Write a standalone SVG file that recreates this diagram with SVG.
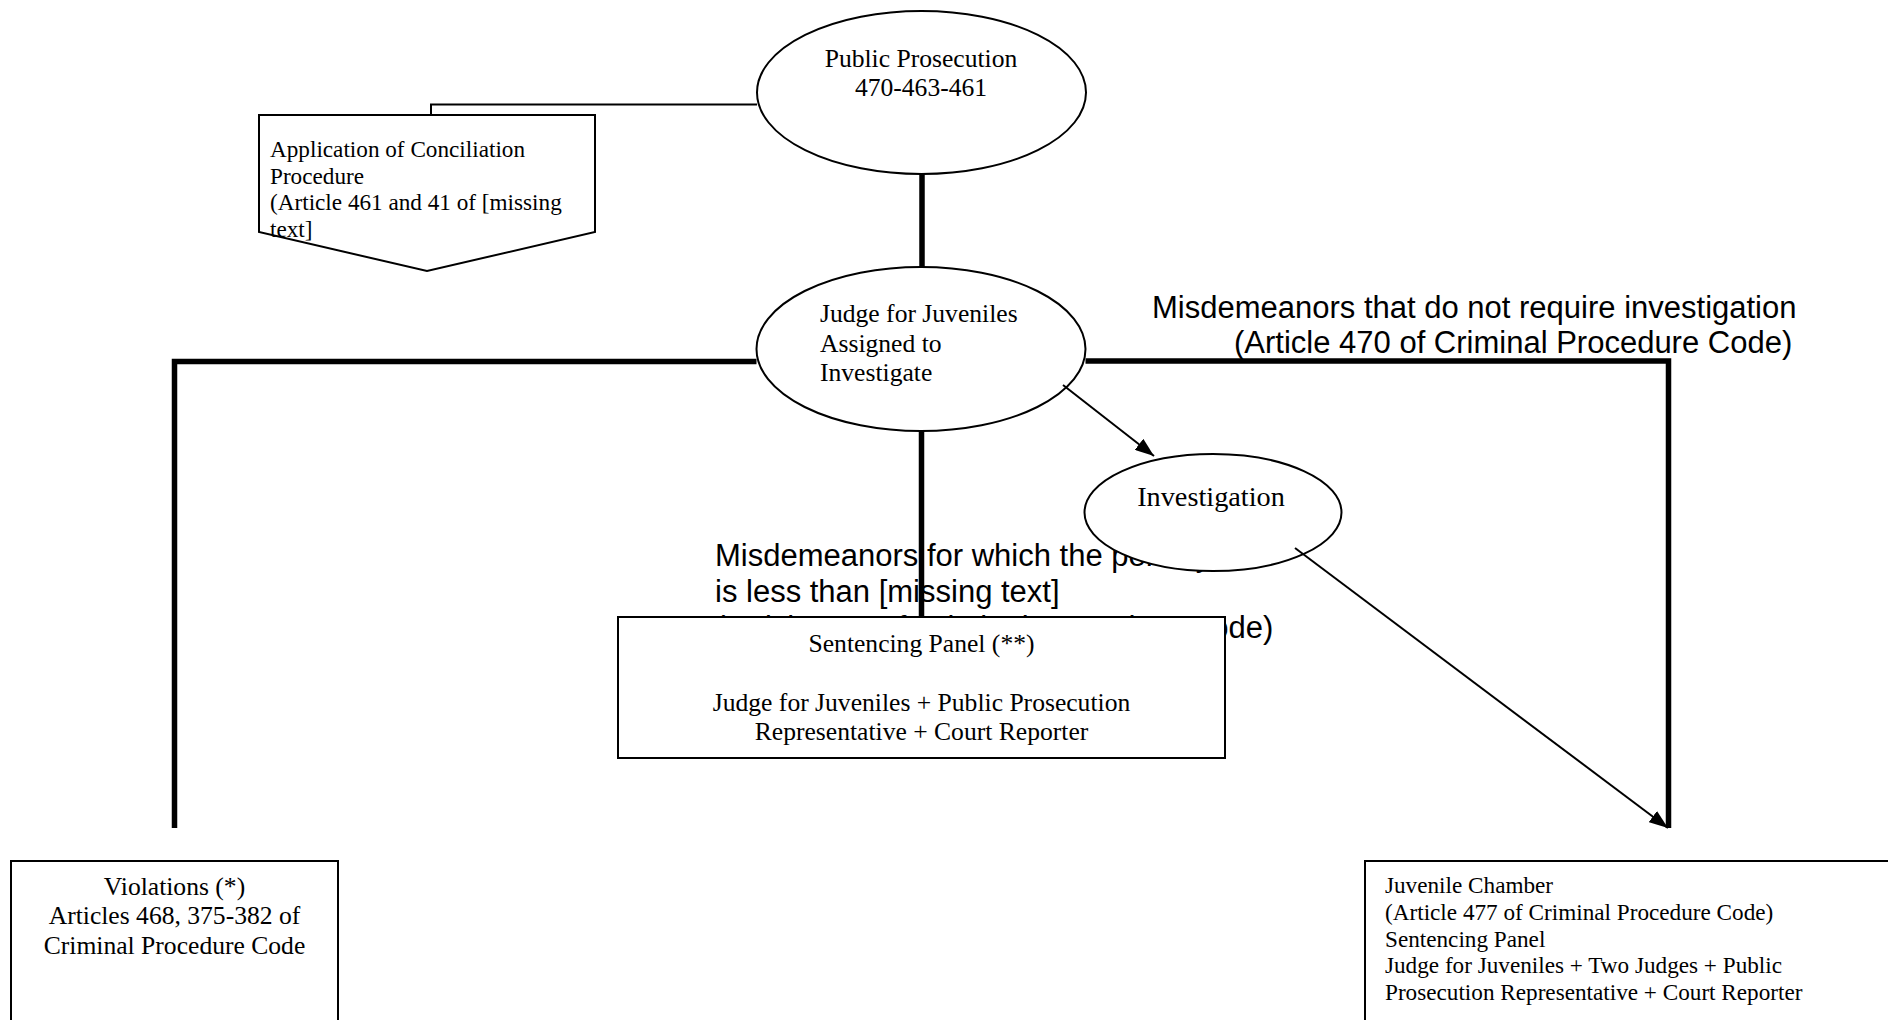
<svg xmlns="http://www.w3.org/2000/svg" width="1888" height="1020" viewBox="0 0 1888 1020">
  <defs>
    <marker id="arrowhead" markerUnits="userSpaceOnUse" markerWidth="20" markerHeight="14" refX="19" refY="7" orient="auto">
      <path d="M0,0 L19,7 L0,14 Z" fill="#000"/>
    </marker>
    <style>
      .serif { font-family: "Liberation Serif", "Times New Roman", serif; font-size: 25.6px; fill: #000; }
      .serif-sm { font-family: "Liberation Serif", "Times New Roman", serif; font-size: 23.2px; fill: #000; }
      .sans { font-family: "Liberation Sans", Arial, sans-serif; font-size: 31px; fill: #000; }
      .mid { text-anchor: middle; }
      .shape { fill: #fff; stroke: #000; stroke-width: 2; }
      .thick { fill: none; stroke: #000; stroke-width: 5.5; stroke-linejoin: miter; }
      .thin { fill: none; stroke: #000; stroke-width: 2; }
    </style>
  </defs>

  <rect width="1888" height="1020" fill="#fff"/>

  <!-- branch labels -->
  <g id="labels">
    <text class="sans" x="1152" y="318">Misdemeanors that do not require investigation</text>
    <text class="sans" x="1234" y="353">(Article 470 of Criminal Procedure Code)</text>
    <text class="sans" x="715" y="566">Misdemeanors for which the penalty</text>
    <text class="sans" x="715" y="602">is less than [missing text]</text>
    <text class="sans" x="715" y="638">(Article 470 of Criminal Procedure Code)</text>
  </g>

  <!-- nodes -->
  <g id="public-prosecution">
    <ellipse class="shape" cx="921.5" cy="92.5" rx="164.5" ry="81.5"/>
    <text class="serif mid" x="921" y="67">Public Prosecution</text>
    <text class="serif mid" x="921" y="96">470-463-461</text>
  </g>

  <g id="conciliation">
    <polygon class="shape" points="259,115 595,115 595,232 427,271 259,232"/>
    <text class="serif-sm" x="270" y="157">Application of Conciliation</text>
    <text class="serif-sm" x="270" y="183.5">Procedure</text>
    <text class="serif-sm" x="270" y="210">(Article 461 and 41 of [missing</text>
    <text class="serif-sm" x="270" y="236.5">text]</text>
  </g>

  <g id="judge-investigate">
    <ellipse class="shape" cx="921" cy="349" rx="164.5" ry="82"/>
    <text class="serif" x="820" y="322">Judge for Juveniles</text>
    <text class="serif" x="820" y="351.5">Assigned to</text>
    <text class="serif" x="820" y="381">Investigate</text>
  </g>

  <g id="investigation">
    <ellipse class="shape" cx="1213" cy="512.5" rx="128.5" ry="58.5"/>
    <text class="serif mid" x="1211" y="505.5" style="font-size:28.3px">Investigation</text>
  </g>

  <g id="sentencing-panel">
    <rect class="shape" x="618" y="617" width="607" height="141"/>
    <text class="serif mid" x="921.5" y="652">Sentencing Panel (**)</text>
    <text class="serif mid" x="921.5" y="711">Judge for Juveniles + Public Prosecution</text>
    <text class="serif mid" x="921.5" y="740">Representative + Court Reporter</text>
  </g>

  <g id="violations">
    <rect class="shape" x="11" y="861" width="327" height="200"/>
    <text class="serif mid" x="174.5" y="895">Violations (*)</text>
    <text class="serif mid" x="174.5" y="924.4">Articles 468, 375-382 of</text>
    <text class="serif mid" x="174.5" y="953.8">Criminal Procedure Code</text>
  </g>

  <g id="juvenile-chamber">
    <rect class="shape" x="1365" y="861" width="600" height="200"/>
    <text class="serif-sm" x="1385" y="893">Juvenile Chamber</text>
    <text class="serif-sm" x="1385" y="920">(Article 477 of Criminal Procedure Code)</text>
    <text class="serif-sm" x="1385" y="946.5">Sentencing Panel</text>
    <text class="serif-sm" x="1385" y="973">Judge for Juveniles + Two Judges + Public</text>
    <text class="serif-sm" x="1385" y="1000">Prosecution Representative + Court Reporter</text>
  </g>

  <!-- connectors -->
  <g id="connectors">
    <polyline class="thin" points="757,104.5 431,104.5 431,115"/>
    <line class="thick" x1="922" y1="174" x2="922" y2="267"/>
    <polyline class="thick" points="756.5,361.5 174.5,361.5 174.5,828"/>
    <polyline class="thick" points="1085.5,361 1668.5,361 1668.5,828"/>
    <line class="thick" x1="921.5" y1="431" x2="921.5" y2="617"/>
    <line class="thin" x1="1063" y1="385" x2="1154" y2="456" marker-end="url(#arrowhead)"/>
    <line class="thin" x1="1295" y1="548" x2="1668" y2="828" marker-end="url(#arrowhead)"/>
  </g>
</svg>
